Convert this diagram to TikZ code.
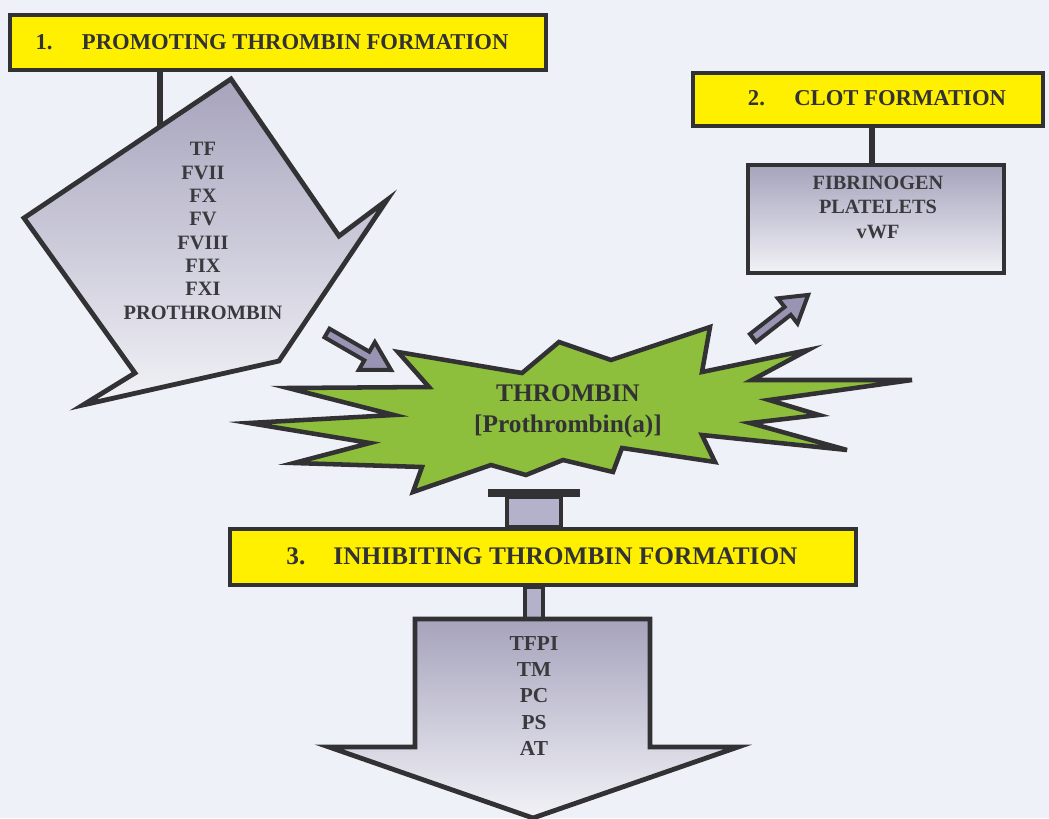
\documentclass[tikz,border=0pt]{standalone}
\usepackage{fontspec}
\setmainfont{Liberation Serif}
\usetikzlibrary{calc}
\definecolor{bg}{RGB}{238,241,248}
\definecolor{ink}{RGB}{50,50,52}
\definecolor{ink2}{RGB}{58,58,62}
\definecolor{yellowbox}{RGB}{255,240,0}
\definecolor{greytop}{RGB}{166,163,188}
\definecolor{greybot}{RGB}{242,242,247}
\definecolor{burst}{RGB}{141,190,60}
\definecolor{arrowfill}{RGB}{154,148,180}
\definecolor{stemfill}{RGB}{180,178,202}
\begin{document}
\begin{tikzpicture}[x=0.75pt,y=-0.75pt,
  outline/.style={draw=ink, line width=3.6pt},
  titlebox/.style={outline, fill=yellowbox, inner sep=0pt},
  titletext/.style={text=ink, font=\fontsize{17}{20}\selectfont\bfseries, inner sep=0pt},
  listtext/.style={text=ink2, align=center, inner sep=0pt},
  greyfill/.style={top color=greytop, bottom color=greybot},
  smallarrow/.style={draw=ink, line width=3pt, fill=arrowfill},
  stem/.style={draw=ink, line width=3.4pt, fill=stemfill},
  link/.style={draw=ink}
]
% page
\path[fill=bg] (0,0) rectangle (1049,818);
\useasboundingbox (0,0) rectangle (1049,818);

% ---------- 1. promoting thrombin formation ----------
\node[titlebox, minimum width=402pt, minimum height=41.25pt] (b1) at (278,42.5) {};
\node[titletext] (b1lbl) at (272,42) {1.\hspace{22pt}PROMOTING THROMBIN FORMATION};

\coordinate (pTop) at (231,79);
\coordinate (pNotch) at (339,236);
\coordinate (pSpike) at (387,200);
\coordinate (pRight) at (279,361);
\coordinate (pTip) at (83,405);
\coordinate (pInner) at (135,373);
\coordinate (pLeft) at (24,218);
\draw[outline, greyfill] (pTop) -- (pNotch) -- (pSpike) -- (pRight) -- (pTip)
  -- (pInner) -- (pLeft) -- cycle;
\coordinate (pJoin) at ($(pLeft)!0.657!(pTop)$);
\draw[link, line width=3.8pt] (b1.south -| pJoin) -- (pJoin);
\node[listtext, font=\fontsize{15.3}{17.5}\selectfont\bfseries] (plist) at (203,231)
  {TF\\FVII\\FX\\FV\\FVIII\\FIX\\FXI\\PROTHROMBIN};

% ---------- 2. clot formation ----------
\node[titlebox, minimum width=262.5pt, minimum height=39.75pt] (b2) at (868,99.5) {};
\node[titletext] (b2lbl) at (877,98) {2.\hspace{22pt}CLOT FORMATION};
\node[outline, greyfill, minimum width=192pt, minimum height=81pt, inner sep=0pt] (b2c) at (876,219) {};
\coordinate (c2x) at (872,0);
\draw[link, line width=5pt] (b2.south -| c2x) -- (b2c.north -| c2x);
\node[listtext, font=\fontsize{15.2}{18.4}\selectfont\bfseries] (clist) at (878,207)
  {FIBRINOGEN\\PLATELETS\\vWF};

% ---------- thrombin burst ----------
\draw[outline, fill=burst, line width=3.4pt]
  (249,423) -- (394,415) -- (288,388) -- (429,387) -- (398,352) -- (522,373)
  -- (559,342) -- (611,360) -- (710,327) -- (702,372) -- (808,350) -- (752,380)
  -- (912,380) -- (769,400) -- (819,415) -- (750,423) -- (847,450) -- (702,435)
  -- (715,462) -- (622,448) -- (613,472) -- (563,460) -- (526,475) -- (491,465)
  -- (413,492) -- (422,467) -- (294,463) -- (370,443) -- cycle;
\node[listtext, text=ink, font=\fontsize{19}{23.25}\selectfont\bfseries] (thr) at (568,411)
  {THROMBIN\\{}[Prothrombin(a)]};

% block arrows between the stages
\draw[smallarrow, shift={(327,333)}, rotate=-30]
  (0,-5) -- (46,-5) -- (46,-16) -- (74,0) -- (46,16) -- (46,5) -- (0,5) -- cycle;
\draw[smallarrow, shift={(753,338)}, rotate=38]
  (0,-5) -- (44,-5) -- (44,-16) -- (70,0) -- (44,16) -- (44,5) -- (0,5) -- cycle;

% ---------- 3. inhibiting thrombin formation ----------
\node[titlebox, minimum width=469.5pt, minimum height=42pt] (b3) at (543,557) {};
\node[titletext, font=\fontsize{19}{22}\selectfont\bfseries] (b3lbl) at (542,556)
  {3.\hspace{21pt}INHIBITING THROMBIN FORMATION};

% T-shaped blocker between the burst and box 3
\draw[stem] (507,497) rectangle (561,527);
\fill[ink] (488,489) rectangle (580,497);

% stem and down arrow
\coordinate (aTL) at (415,619);
\coordinate (aTR) at (650,619);
\draw[stem, line width=3pt] (525,587) rectangle (543,619);
\draw[outline, greyfill] (aTL) -- (aTR) -- (650,747) -- (738,747) -- (533,818)
  -- (329,747) -- (415,747) -- cycle;
\node[listtext, font=\fontsize{16}{19.7}\selectfont\bfseries] (ilist) at (534,696)
  {TFPI\\TM\\PC\\PS\\AT};
\end{tikzpicture}
\end{document}
